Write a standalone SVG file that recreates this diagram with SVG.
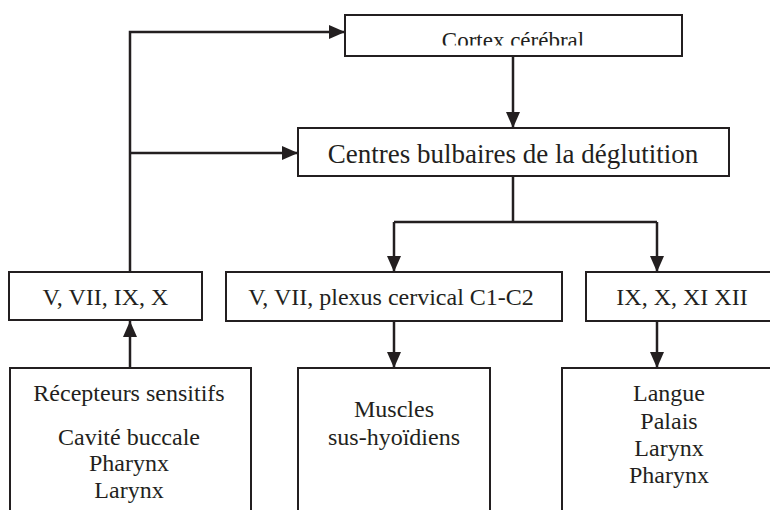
<svg xmlns="http://www.w3.org/2000/svg" width="770" height="510" viewBox="0 0 770 510">
<style>
.box{fill:#fff;stroke:#231f20;stroke-width:2}
.t{font-family:"Liberation Serif","Times New Roman",serif;fill:#231f20;text-anchor:middle;font-size:24px}
.c{fill:none;stroke:#231f20;stroke-width:2.5}
</style>
<defs>
<marker id="ah" markerUnits="userSpaceOnUse" markerWidth="16" markerHeight="14" refX="16" refY="7" orient="auto">
<path d="M0,0 L16,7 L0,14 Z" fill="#231f20"/>
</marker>
<clipPath id="cc"><rect x="345" y="15" width="337" height="30.5"/></clipPath>
</defs>
<rect width="770" height="510" fill="#fff"/>
<g id="cortex">
<rect class="box" x="345" y="15" width="337" height="41"/>
<text class="t" x="513" y="47.5" font-size="23" clip-path="url(#cc)" style="font-size:23px">Cortex cérébral</text>
</g>
<g id="centres">
<rect class="box" x="298" y="128" width="431" height="48"/>
<text class="t" x="513" y="163" style="font-size:27px">Centres bulbaires de la déglutition</text>
</g>
<g id="nerfs-sensitifs">
<rect class="box" x="9" y="272" width="193" height="48"/>
<text class="t" x="105.5" y="305">V, VII, IX, X</text>
</g>
<g id="nerfs-moteurs-1">
<rect class="box" x="226" y="272" width="336" height="49"/>
<text class="t" x="391" y="305">V, VII, plexus cervical C1-C2</text>
</g>
<g id="nerfs-moteurs-2">
<rect class="box" x="586" y="272" width="194" height="49"/>
<text class="t" x="682" y="305">IX, X, XI XII</text>
</g>
<g id="recepteurs">
<rect class="box" x="10" y="368" width="241" height="160"/>
<text class="t" x="129" y="401">Récepteurs sensitifs</text>
<text class="t" x="129" y="445">Cavité buccale</text>
<text class="t" x="129" y="471">Pharynx</text>
<text class="t" x="129" y="498">Larynx</text>
</g>
<g id="muscles">
<rect class="box" x="298" y="368" width="192" height="160"/>
<text class="t" x="394" y="417">Muscles</text>
<text class="t" x="394" y="445">sus-hyoïdiens</text>
</g>
<g id="organes">
<rect class="box" x="562" y="368" width="216" height="160"/>
<text class="t" x="669" y="401">Langue</text>
<text class="t" x="669" y="429">Palais</text>
<text class="t" x="669" y="456">Larynx</text>
<text class="t" x="669" y="483">Pharynx</text>
</g>
<g id="connectors">
<polyline class="c" points="130,272 130,32 345,32" marker-end="url(#ah)"/>
<line class="c" x1="130" y1="153" x2="298" y2="153" marker-end="url(#ah)"/>
<line class="c" x1="513" y1="56" x2="513" y2="128" marker-end="url(#ah)"/>
<line class="c" x1="513" y1="176" x2="513" y2="222"/>
<line class="c" x1="394" y1="222" x2="657" y2="222"/>
<line class="c" x1="394" y1="222" x2="394" y2="272" marker-end="url(#ah)"/>
<line class="c" x1="657" y1="222" x2="657" y2="272" marker-end="url(#ah)"/>
<line class="c" x1="130" y1="368" x2="130" y2="321" marker-end="url(#ah)"/>
<line class="c" x1="394" y1="321" x2="394" y2="368" marker-end="url(#ah)"/>
<line class="c" x1="657" y1="321" x2="657" y2="368" marker-end="url(#ah)"/>
</g>
</svg>
